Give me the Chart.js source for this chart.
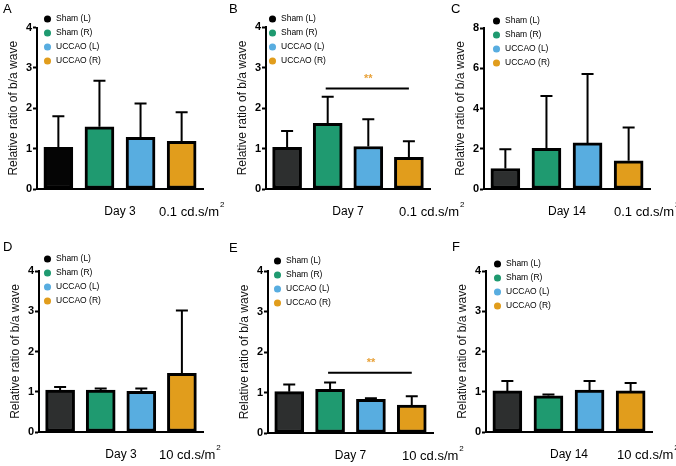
<!DOCTYPE html>
<html>
<head>
<meta charset="utf-8">
<script src="https://cdn.jsdelivr.net/npm/chart.js@4.4.1/dist/chart.umd.min.js"></script>
<style>
  html, body { margin: 0; padding: 0; background: #fff; }
  #wrap { position: relative; width: 676px; height: 466px; overflow: hidden; }
  #wrap canvas { position: absolute; left: 0; top: 0; }
</style>
</head>
<body>
<div id="wrap"></div>
<script>
// groups shown in every panel
var groups = ['Sham (L)', 'Sham (R)', 'UCCAO (L)', 'UCCAO (R)'];
var letters = ['A', 'B', 'C', 'D', 'E', 'F'];
var days = ['Day 3', 'Day 7', 'Day 14', 'Day 3', 'Day 7', 'Day 14'];
var intensity = ['0.1 cd.s/m', '0.1 cd.s/m', '0.1 cd.s/m', '10 cd.s/m', '10 cd.s/m', '10 cd.s/m'];
var yAxisTitle = 'Relative ratio of b/a wave';
var yMax = [4, 4, 8, 4, 4, 4];
var yStep = [1, 1, 2, 1, 1, 1];

// mean and error (upper bar) per panel
var meanA = [1.03, 1.54, 1.28, 1.18];
var errA = [0.77, 1.14, 0.84, 0.72];
var meanB = [1.03, 1.62, 1.05, 0.78];
var errB = [0.40, 0.66, 0.67, 0.40];
var meanC = [1.02, 2.02, 2.29, 1.40];
var errC = [0.96, 2.60, 3.42, 1.65];
var meanD = [1.04, 1.04, 1.01, 1.46];
var errD = [0.08, 0.04, 0.07, 1.56];
var meanE = [1.02, 1.08, 0.83, 0.69];
var errE = [0.18, 0.17, 0.03, 0.22];
var meanF = [1.02, 0.90, 1.04, 1.02];
var errF = [0.25, 0.03, 0.23, 0.20];

// significance bracket: from group, to group, height (y value)
var sigB = { from: 1, to: 3, y: 2.48, text: '**' };
var sigE = { from: 1, to: 3, y: 1.49, text: '**' };

var means = [meanA, meanB, meanC, meanD, meanE, meanF];
var errs = [errA, errB, errC, errD, errE, errF];
var sigs = [null, sigB, null, null, sigE, null];

// ---- layout / style (page pixels) ----
var W = 676, H = 466;
var YW = 37;   // width of the y axis box
var XH = 30;   // height of the x axis box
var FONT = "'Liberation Sans', Arial, sans-serif";
var LEG_FONT = 8.5, LEG_PAD = 5.5, LEG_BOX = 9.5;

var boxes = [
    { left: 37, top: 27.5, right: 203, bottom: 189, dotX: 48, dotY: 19, unitX: 159, letterX: 3, letterY: 3 },
    { left: 266, top: 27, right: 430, bottom: 189, dotX: 273, dotY: 19, unitX: 399, letterX: 229, letterY: 3 },
    { left: 484, top: 28, right: 650, bottom: 189, dotX: 497, dotY: 21, unitX: 614, letterX: 451, letterY: 3 },
    { left: 39, top: 271, right: 203, bottom: 432, dotX: 48, dotY: 259, unitX: 159, letterX: 3, letterY: 241 },
    { left: 268, top: 271, right: 433, bottom: 433, dotX: 278, dotY: 261, unitX: 402, letterX: 229, letterY: 242 },
    { left: 486, top: 271, right: 652, bottom: 432, dotX: 498, dotY: 264, unitX: 617, letterX: 452, letterY: 241 }
];

var barColors = ['#2d2f2f', '#1f9a70', '#58ade0', '#e19d1c'];
var legendColors = ['#000000', '#1f9a70', '#58ade0', '#e19d1c'];
var starColor = '#e8a23a';

var extras = {
    id: 'extras',
    afterLayout: function (chart, args, opts) {
        // legend sits over the top left of the plot, partly above it
        var lg = chart.legend;
        var b = opts.box;
        lg.left = b.dotX - LEG_PAD - LEG_BOX / 2;
        lg.top = b.dotY - LEG_PAD - LEG_FONT / 2;
        lg.right = lg.left + 120;
        lg.bottom = lg.top + 150;
        lg.width = 120;
        lg.height = 150;
    },
    beforeDatasetsDraw: function (chart, args, opts) {
        var ctx = chart.ctx;
        var y = chart.scales.y;
        var meta = chart.getDatasetMeta(0);
        var data = chart.data.datasets[0].data;
        ctx.save();
        ctx.strokeStyle = '#000';
        ctx.lineWidth = 2;
        meta.data.forEach(function (bar, k) {
            var top = y.getPixelForValue(data[k].y + opts.errors[k]);
            ctx.beginPath();
            ctx.moveTo(bar.x, bar.y);
            ctx.lineTo(bar.x, top);
            ctx.moveTo(bar.x - 6, top);
            ctx.lineTo(bar.x + 6, top);
            ctx.stroke();
        });
        ctx.restore();
    },
    afterDraw: function (chart, args, opts) {
        var ctx = chart.ctx;
        var b = opts.box;
        var xs = chart.scales.x, ys = chart.scales.y;
        ctx.save();

        if (opts.sig) {
            var yy = ys.getPixelForValue(opts.sig.y);
            var x1 = xs.getPixelForValue(opts.sig.from);
            var x2 = xs.getPixelForValue(opts.sig.to);
            ctx.strokeStyle = '#000';
            ctx.lineWidth = 2;
            ctx.beginPath();
            ctx.moveTo(x1 - 2, yy);
            ctx.lineTo(x2, yy);
            ctx.stroke();
            ctx.fillStyle = starColor;
            ctx.font = 'bold 11px ' + FONT;
            ctx.textAlign = 'center';
            ctx.textBaseline = 'middle';
            ctx.fillText(opts.sig.text, (x1 + x2) / 2, yy - 10);
        }

        // stimulus intensity with superscript 2
        ctx.fillStyle = '#000';
        ctx.textAlign = 'left';
        ctx.textBaseline = 'middle';
        ctx.font = '13px ' + FONT;
        var ly = b.bottom + 23;
        ctx.fillText(opts.unit, b.unitX, ly);
        var w = ctx.measureText(opts.unit).width;
        ctx.font = '8px ' + FONT;
        ctx.fillText('2', b.unitX + w + 1, ly - 7);

        // panel letter
        ctx.font = '13px ' + FONT;
        ctx.textBaseline = 'top';
        ctx.fillText(opts.letter, b.letterX, b.letterY);
        ctx.restore();
    }
};

function makePanel(i) {
    var b = boxes[i];
    var canvas = document.createElement('canvas');
    canvas.width = W;
    canvas.height = H;
    document.getElementById('wrap').appendChild(canvas);

    var fills = barColors.slice();
    if (i === 0) fills[0] = '#050505';

    return new Chart(canvas.getContext('2d'), {
        type: 'bar',
        data: {
            datasets: [{
                data: means[i].map(function (v, k) { return { x: k, y: v }; }),
                backgroundColor: fills,
                borderColor: '#000',
                borderWidth: 3,
                borderSkipped: false,
                barThickness: 29
            }]
        },
        options: {
            responsive: false,
            animation: false,
            events: [],
            layout: {
                padding: { left: b.left - YW, top: b.top, right: W - b.right, bottom: H - b.bottom - XH }
            },
            scales: {
                x: {
                    type: 'linear',
                    min: -0.52,
                    max: 3.52,
                    offset: false,
                    ticks: { display: false },
                    grid: { display: false },
                    border: { display: true, color: '#000', width: 2 },
                    title: {
                        display: true,
                        text: days[i],
                        color: '#000',
                        font: { family: FONT, size: 12 },
                        padding: 0
                    },
                    afterFit: function (s) { s.height = XH; }
                },
                y: {
                    min: 0,
                    max: yMax[i],
                    ticks: {
                        stepSize: yStep[i],
                        color: '#000',
                        padding: 1,
                        font: { family: FONT, size: 11, weight: 'bold' }
                    },
                    grid: { drawOnChartArea: false, tickLength: 4, tickWidth: 2, tickColor: '#000' },
                    border: { display: true, color: '#000', width: 2 },
                    title: {
                        display: true,
                        text: yAxisTitle,
                        color: '#111',
                        font: { family: FONT, size: 12 },
                        padding: { top: 6, bottom: 0 }
                    },
                    afterFit: function (s) { s.width = YW; }
                }
            },
            plugins: {
                legend: {
                    position: 'chartArea',
                    align: 'start',
                    labels: {
                        usePointStyle: true,
                        boxWidth: LEG_BOX,
                        boxHeight: 5,
                        padding: LEG_PAD,
                        color: '#222',
                        font: { family: FONT, size: LEG_FONT },
                        generateLabels: function () {
                            return groups.map(function (g, k) {
                                return {
                                    text: g,
                                    fillStyle: legendColors[k],
                                    strokeStyle: legendColors[k],
                                    lineWidth: 0,
                                    pointStyle: 'circle',
                                    hidden: false,
                                    datasetIndex: 0,
                                    index: k
                                };
                            });
                        }
                    }
                },
                tooltip: { enabled: false },
                extras: {
                    box: b,
                    errors: errs[i],
                    sig: sigs[i],
                    unit: intensity[i],
                    letter: letters[i]
                }
            }
        },
        plugins: [extras]
    });
}

for (var i = 0; i < 6; i++) makePanel(i);
</script>
</body>
</html>
